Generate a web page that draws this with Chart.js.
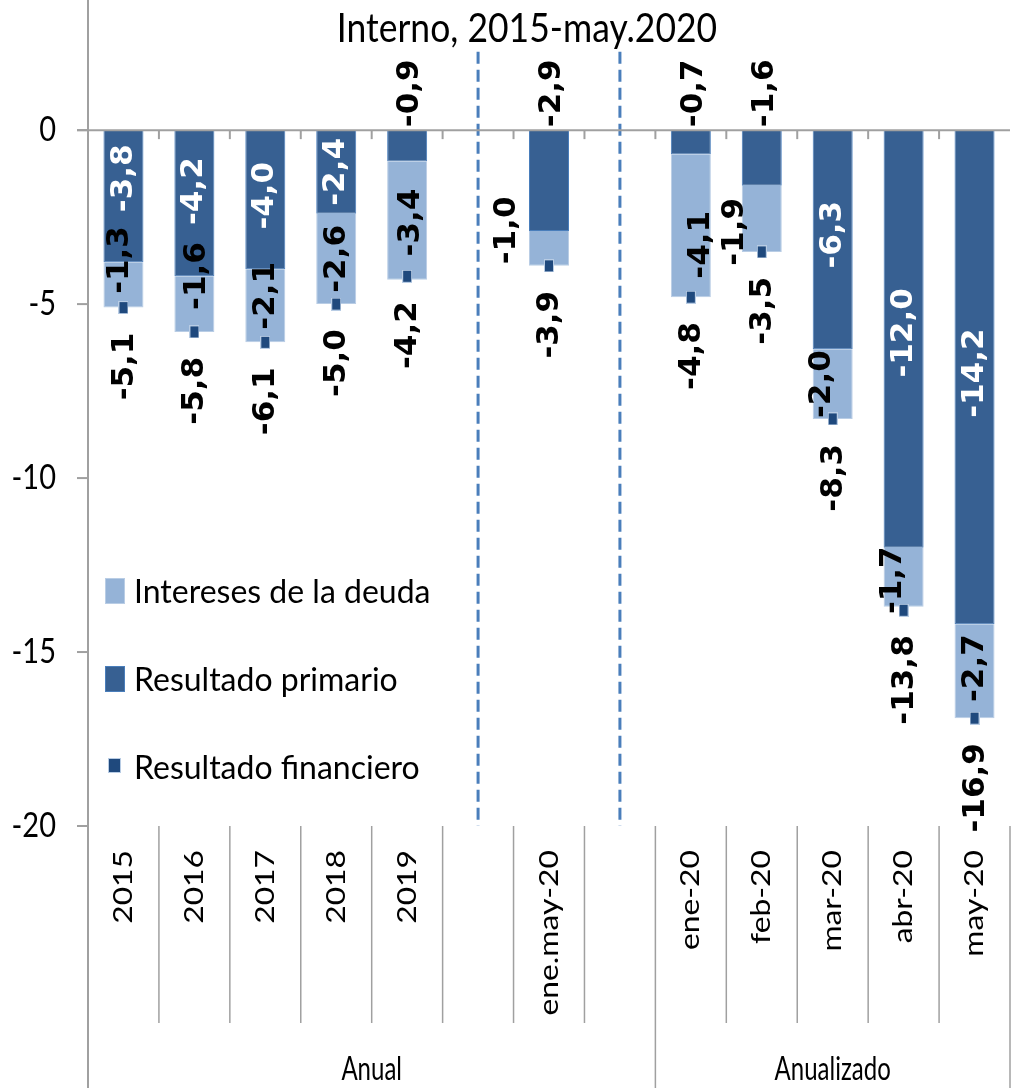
<!DOCTYPE html>
<html>
<head>
<meta charset="utf-8">
<script src="https://cdn.jsdelivr.net/npm/chart.js@4.4.1/dist/chart.umd.min.js"></script>
<style>
  html, body { margin: 0; padding: 0; background: #fff; }
  canvas { display: block; }
</style>
</head>
<body>
<canvas id="deficitChart" width="1019" height="1088"></canvas>
<script>
const categories = ["2015", "2016", "2017", "2018", "2019", "", "ene.may-20", "", "ene-20", "feb-20", "mar-20", "abr-20", "may-20"];
const primario = [-3.8, -4.2, -4.0, -2.4, -0.9, null, -2.9, null, -0.7, -1.6, -6.3, -12.0, -14.2];
const intereses = [-1.3, -1.6, -2.1, -2.6, -3.4, null, -1.0, null, -4.1, -1.9, -2.0, -1.7, -2.7];
const financiero = [-5.1, -5.8, -6.1, -5.0, -4.2, null, -3.9, null, -4.8, -3.5, -8.3, -13.8, -16.9];
const groupLabels = ["Anual", "Anualizado"];
const groupStart = [0, 8];
const yTicks = [0, -5, -10, -15, -20];
const dividers = [5, 7];
const titleText = "Interno, 2015-may.2020";

// label placement (Excel had these nudged by hand)
const primMode = ["in", "in", "in", "in", "out", null, "out", null, "out", "out", "in", "in", "in"];
const primShift = [-18, -12, -4, 0, 0, 0, 0, 0, 0, 0, -5, -6, -4];
const intShift = [[-4, -25], [3, -28], [1, -10], [1, 0], [4, 2], [0, 0], [-42, -18], [0, 0], [10, 19], [-27, 13], [-11, 0], [-11, 3], [0, -3]];

const DARK = "#376092";
const LIGHT = "#95b3d7";
const NAVY = "#1f497d";
const AXIS = "#a0a0a0";

function makeMarker(w, h) {
  const c = document.createElement("canvas");
  c.width = w;
  c.height = h;
  const g = c.getContext("2d");
  g.fillStyle = "#b8cce4";
  g.fillRect(0, 0, w, h);
  g.fillStyle = NAVY;
  g.fillRect(1, 1, w - 2, h - 2);
  return c;
}
const marker = makeMarker(10, 13);

const fmt = v => v.toFixed(1).replace(".", ",");

function txt(ctx, s, x, y, o) {
  ctx.save();
  ctx.translate(x, y);
  ctx.scale(1, o.sy || 1);
  if (o.rot) ctx.rotate(o.rot);
  ctx.font = o.font;
  ctx.fillStyle = o.color || "#000";
  ctx.textAlign = o.align || "left";
  ctx.textBaseline = o.base || "alphabetic";
  ctx.fillText(s, 0, 0);
  ctx.restore();
}

function seg(ctx, x1, y1, x2, y2) {
  ctx.beginPath();
  ctx.moveTo(x1, y1);
  ctx.lineTo(x2, y2);
  ctx.stroke();
}

const deco = {
  id: "deco",
  afterDatasetsDraw(chart) {
    const { ctx, chartArea: a, scales: { x, y } } = chart;
    const n = categories.length;
    const y0 = y.getPixelForValue(0);
    const edge = k => (k < 0 ? a.left : k >= n - 1 ? a.right : (x.getPixelForValue(k) + x.getPixelForValue(k + 1)) / 2);

    ctx.save();
    // dashed separators
    ctx.strokeStyle = "#4a7ebb";
    ctx.lineWidth = 3;
    ctx.setLineDash([12, 6]);
    dividers.forEach(i => {
      const px = x.getPixelForValue(i);
      seg(ctx, px, y.getPixelForValue(2.25), px, a.bottom);
    });
    ctx.setLineDash([]);

    // axes
    ctx.strokeStyle = AXIS;
    ctx.lineWidth = 2;
    seg(ctx, a.left, 0, a.left, chart.height);
    seg(ctx, a.left - 11, y0, a.right, y0);
    for (let k = 0; k < n - 1; k++) seg(ctx, edge(k), y0, edge(k), y0 + 9);
    yTicks.forEach(v => {
      const py = y.getPixelForValue(v);
      seg(ctx, a.left - 11, py, a.left, py);
    });
    ctx.lineWidth = 1.5;
    for (let k = 0; k < n; k++) {
      const isGroup = k === n - 1 || groupStart.includes(k + 1);
      seg(ctx, edge(k), a.bottom, edge(k), isGroup ? chart.height : a.bottom + 197);
    }
    ctx.restore();

    // y tick labels
    yTicks.forEach(v => {
      txt(ctx, String(v), a.left - 32, y.getPixelForValue(v), { font: "29px Lato", sy: 1.2, align: "right", base: "middle" });
    });

    // category labels
    categories.forEach((c, i) => {
      if (!c) return;
      txt(ctx, c, x.getPixelForValue(i), a.bottom + 24, { font: "26.5px Lato", sy: 1.2, rot: -Math.PI / 2, align: "right", base: "middle" });
    });

    // group labels
    groupLabels.forEach((g, j) => {
      const from = groupStart[j];
      const to = j + 1 < groupStart.length ? groupStart[j + 1] - 1 : n - 1;
      const cx = (edge(from - 1) + edge(to)) / 2;
      txt(ctx, g, cx, chart.height - 8, { font: "24px Lato", sy: 1.35, align: "center" });
    });

    // data labels
    const mp = chart.getDatasetMeta(0).data;
    const mi = chart.getDatasetMeta(1).data;
    const rot = -Math.PI / 2;
    const bold = "bold 31px 'DejaVu Sans'";
    categories.forEach((c, i) => {
      if (primario[i] == null) return;
      const bp = mp[i];
      const bi = mi[i];
      if (primMode[i] === "in") {
        txt(ctx, fmt(primario[i]), bp.x, (bp.y + bp.base) / 2 + primShift[i], { font: bold, color: "#fff", rot, align: "center", base: "middle" });
      } else {
        txt(ctx, fmt(primario[i]), bp.x + 3, y0 - 3, { font: bold, rot, align: "left", base: "middle" });
      }
      const [dx, dy] = intShift[i];
      txt(ctx, fmt(intereses[i]), bi.x + dx, (bi.y + bi.base) / 2 + dy, { font: bold, rot, align: "center", base: "middle" });
      txt(ctx, fmt(financiero[i]), bp.x + 1, y.getPixelForValue(financiero[i]) + 25, { font: bold, rot, align: "right", base: "middle" });
    });
  },
  afterDraw(chart) {
    const { ctx } = chart;
    txt(ctx, titleText, 527, 42, { font: "35.5px Lato", sy: 1.12, align: "center" });

    // legend inside plot
    const ds = chart.data.datasets;
    const rows = [ds[1], ds[0], ds[2]];
    rows.forEach((d, r) => {
      const base = 603 + r * 88;
      if (d.type === "line") {
        ctx.drawImage(makeMarker(13, 15), 108, base - 21);
      } else {
        ctx.fillStyle = d.borderColor;
        ctx.fillRect(105, base - 25, 20, 26);
        ctx.fillStyle = d.backgroundColor;
        ctx.fillRect(106, base - 24, 18, 24);
      }
      txt(ctx, d.label, 134, base, { font: "32px Lato" });
    });
  }
};

new Chart(document.getElementById("deficitChart"), {
  type: "bar",
  data: {
    labels: categories,
    datasets: [
      {
        label: "Resultado primario",
        data: primario,
        backgroundColor: DARK,
        borderColor: "#4a7ebb",
        borderWidth: 1,
        stack: "a",
        order: 1,
        barPercentage: 0.564,
        categoryPercentage: 1,
      },
      {
        label: "Intereses de la deuda",
        data: intereses,
        backgroundColor: LIGHT,
        borderColor: "#b9cde5",
        borderWidth: 1,
        stack: "a",
        order: 1,
        barPercentage: 0.564,
        categoryPercentage: 1,
      },
      {
        type: "line",
        label: "Resultado financiero",
        data: financiero,
        showLine: false,
        pointStyle: marker,
        pointRadius: 5,
        stack: "b",
        order: 0,
      },
    ],
  },
  options: {
    responsive: false,
    devicePixelRatio: 1,
    animation: false,
    layout: { autoPadding: false, padding: { left: 88, right: 9, top: 0, bottom: 262 } },
    plugins: {
      legend: { display: false },
      tooltip: { enabled: false },
    },
    scales: {
      x: { display: false, stacked: true, offset: true },
      y: { display: false, stacked: true, min: -20, max: 3.74 },
    },
  },
  plugins: [deco],
});
</script>
</body>
</html>
